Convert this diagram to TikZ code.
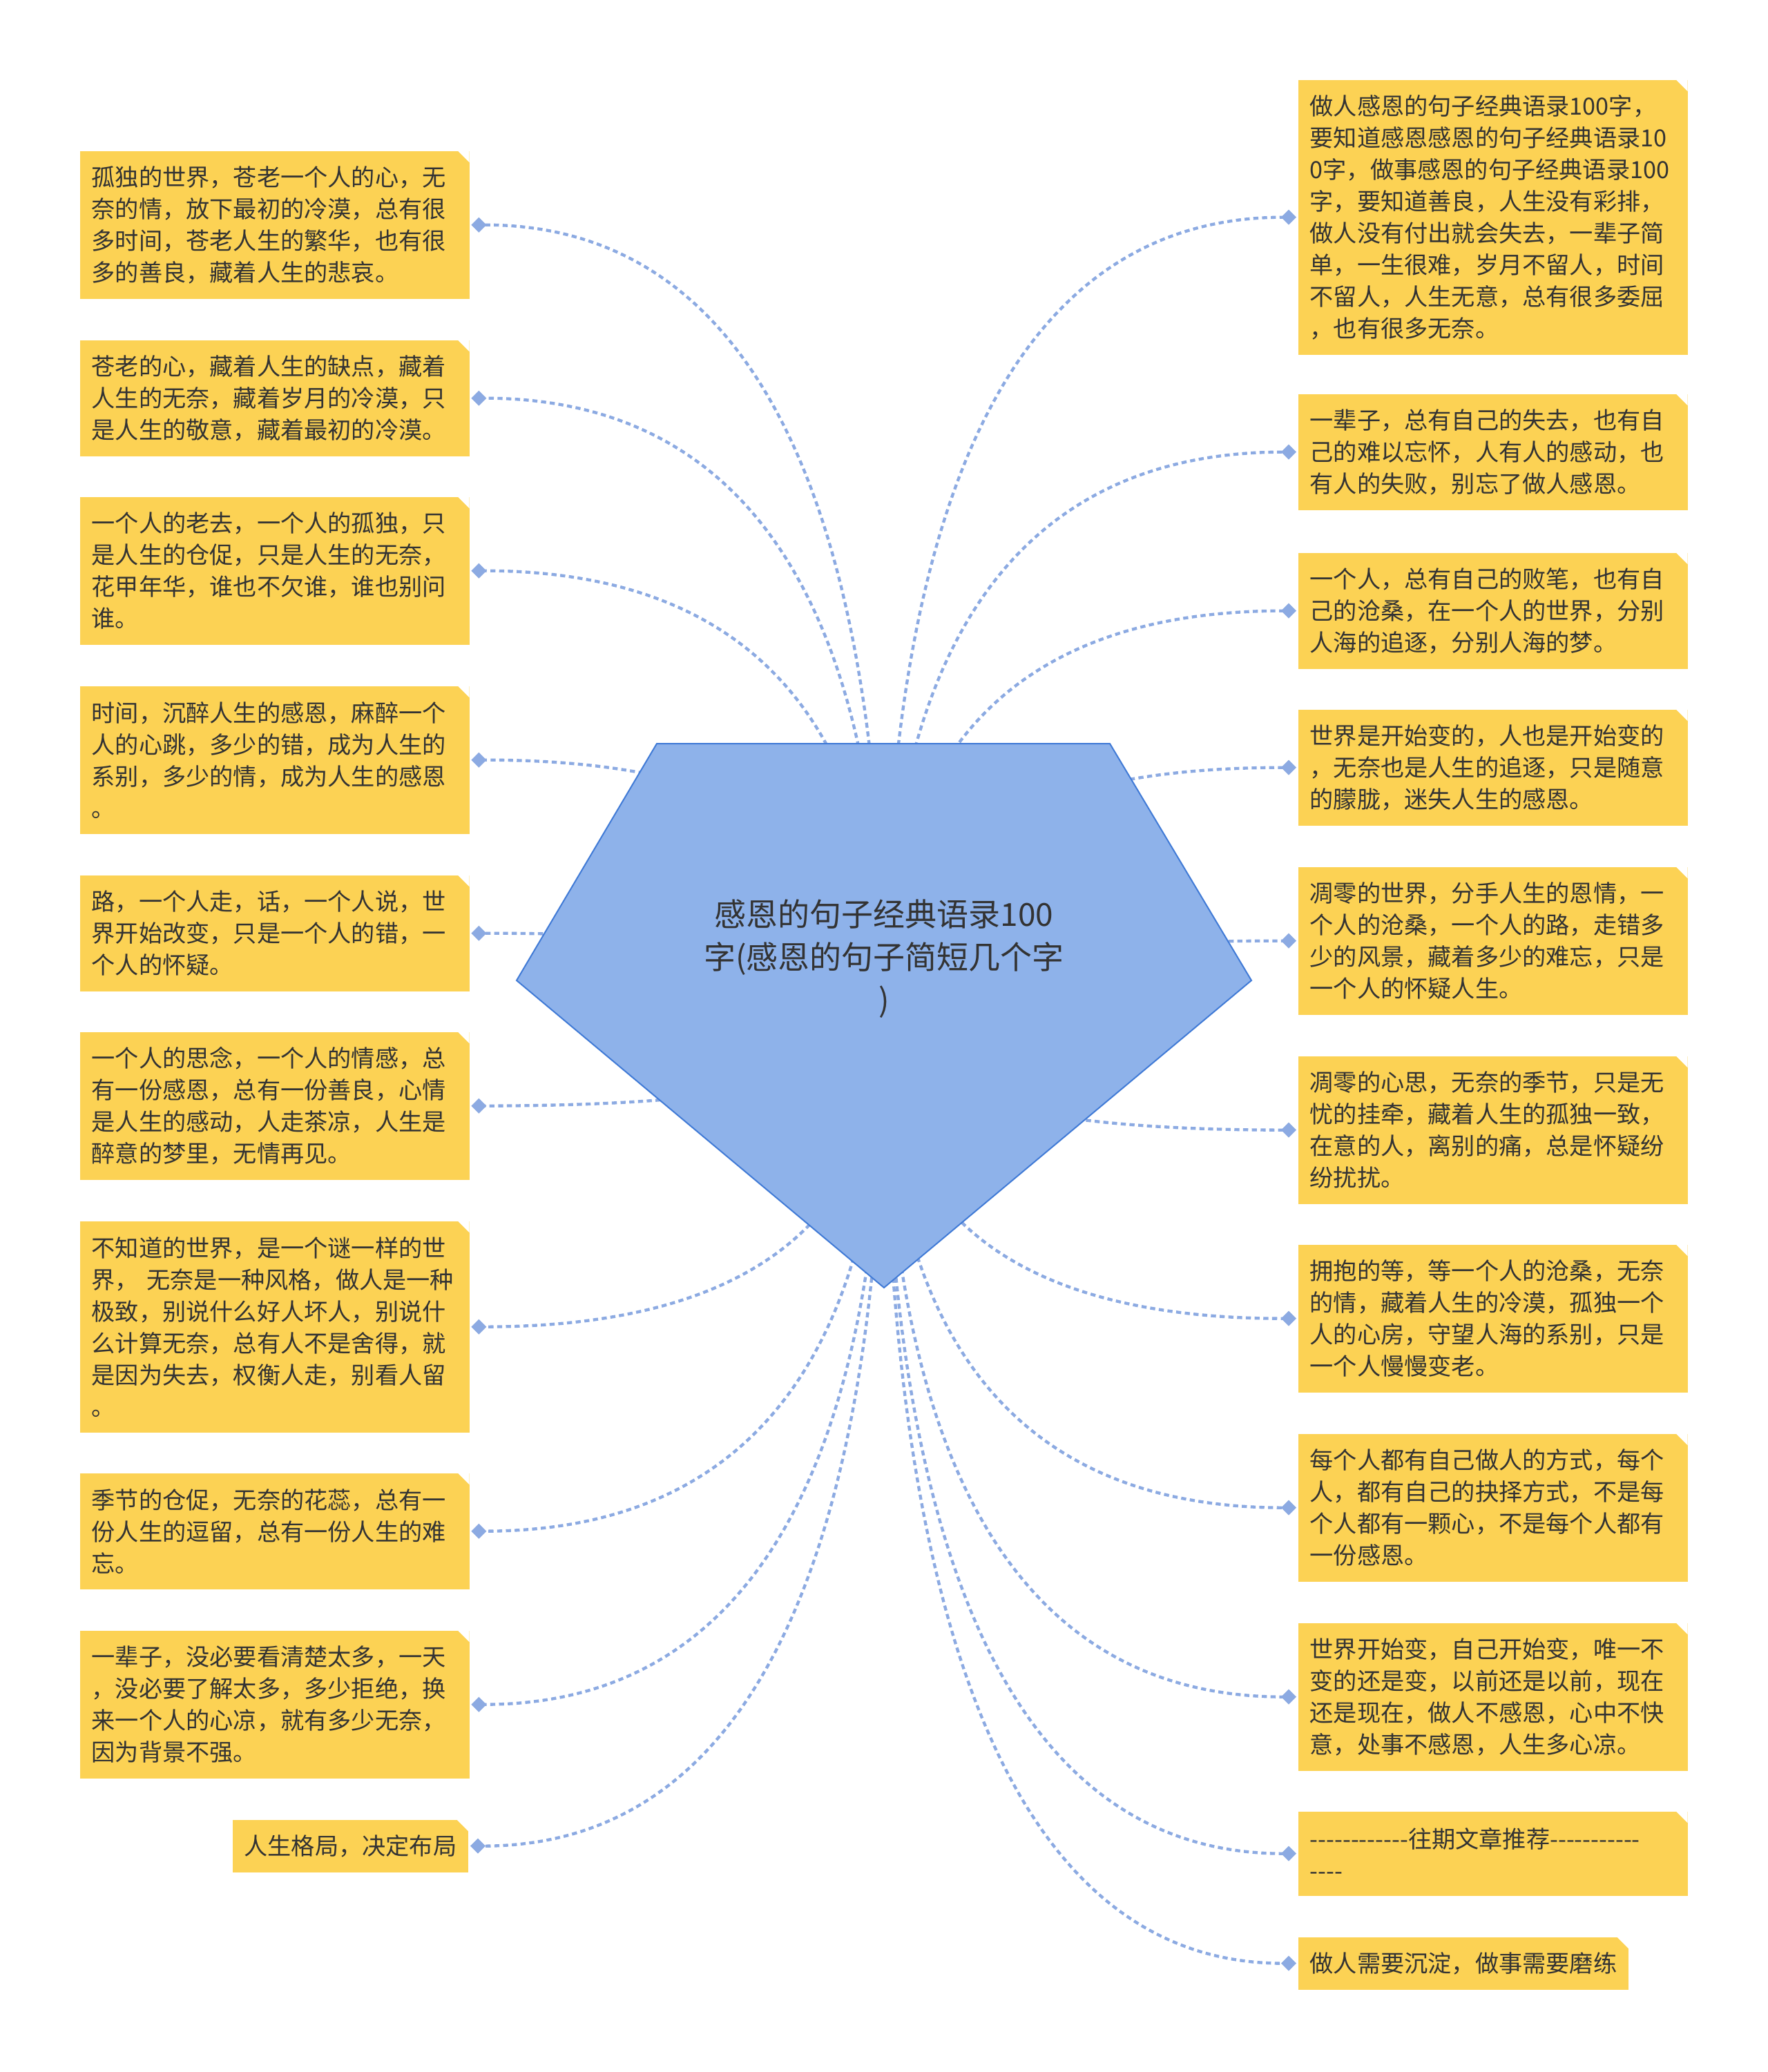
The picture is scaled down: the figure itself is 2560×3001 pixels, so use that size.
\documentclass[tikz,border=0pt]{standalone}
\usepackage{fontspec}
\newfontfamily\cjk{Noto Sans CJK SC}
\usetikzlibrary{calc,arrows.meta}
\definecolor{leafyellow}{RGB}{252,210,84}
\definecolor{inkgray}{RGB}{51,51,51}
\definecolor{rootblue}{RGB}{142,178,234}
\definecolor{rootedge}{RGB}{64,122,214}
\definecolor{twigblue}{RGB}{140,170,226}
\tikzset{
    leaf/.style={rectangle, fill=leafyellow, text=inkgray, inner xsep=5.1pt, inner ysep=0pt,
        font=\cjk\fontsize{10.26pt}{13.8pt}\selectfont,
        path picture={\fill[white] ([xshift=-5pt]path picture bounding box.north east)
            -- (path picture bounding box.north east)
            -- ([yshift=-5pt]path picture bounding box.north east) -- cycle;}},
    wide/.style={text width=159pt, align=left},
    nlines/.style={minimum height={#1*13.8pt+9pt}},
    twig/.style={draw=twigblue, line width=1.3pt, dash pattern=on 2.2pt off 1.6pt,
        -{Diamond[length=6.6pt,width=6.6pt]}},
    rootshape/.style={fill=rootblue, draw=rootedge, line width=0.6pt},
    roottext/.style={text=inkgray, align=center, font=\cjk\fontsize{13.8pt}{18.6pt}\selectfont}
}
\begin{document}
\begin{tikzpicture}[x=0.3pt, y=-0.3pt]
    \fill[white] (0,0) rectangle (2560,3001);
    \useasboundingbox (0,0) rectangle (2560,3001);
    % left column
    \node[leaf, wide, nlines=4, anchor=north west] (l1) at (115,218) {孤独的世界，苍老一个人的心，无\\奈的情，放下最初的冷漠，总有很\\多时间，苍老人生的繁华，也有很\\多的善良，藏着人生的悲哀。};
    \node[leaf, wide, nlines=3, anchor=north west] (l2) at (115,492) {苍老的心，藏着人生的缺点，藏着\\人生的无奈，藏着岁月的冷漠，只\\是人生的敬意，藏着最初的冷漠。};
    \node[leaf, wide, nlines=4, anchor=north west] (l3) at (115,719) {一个人的老去，一个人的孤独，只\\是人生的仓促，只是人生的无奈，\\花甲年华，谁也不欠谁，谁也别问\\谁。};
    \node[leaf, wide, nlines=4, anchor=north west] (l4) at (115,993) {时间，沉醉人生的感恩，麻醉一个\\人的心跳，多少的错，成为人生的\\系别，多少的情，成为人生的感恩\\。};
    \node[leaf, wide, nlines=3, anchor=north west] (l5) at (115,1267) {路，一个人走，话，一个人说，世\\界开始改变，只是一个人的错，一\\个人的怀疑。};
    \node[leaf, wide, nlines=4, anchor=north west] (l6) at (115,1494) {一个人的思念，一个人的情感，总\\有一份感恩，总有一份善良，心情\\是人生的感动，人走茶凉，人生是\\醉意的梦里，无情再见。};
    \node[leaf, wide, nlines=6, anchor=north west] (l7) at (115,1768) {不知道的世界，是一个谜一样的世\\界， 无奈是一种风格，做人是一种\\极致，别说什么好人坏人，别说什\\么计算无奈，总有人不是舍得，就\\是因为失去，权衡人走，别看人留\\。};
    \node[leaf, wide, nlines=3, anchor=north west] (l8) at (115,2133) {季节的仓促，无奈的花蕊，总有一\\份人生的逗留，总有一份人生的难\\忘。};
    \node[leaf, wide, nlines=4, anchor=north west] (l9) at (115,2361) {一辈子，没必要看清楚太多，一天\\，没必要了解太多，多少拒绝，换\\来一个人的心凉，就有多少无奈，\\因为背景不强。};
    \node[leaf, nlines=1, anchor=north east] (l10) at (679,2635) {人生格局，决定布局};
    % right column
    \node[leaf, wide, nlines=8, anchor=north west] (r1) at (1879,115) {做人感恩的句子经典语录100字，\\要知道感恩感恩的句子经典语录10\\0字，做事感恩的句子经典语录100\\字，要知道善良，人生没有彩排，\\做人没有付出就会失去，一辈子简\\单，一生很难，岁月不留人，时间\\不留人，人生无意，总有很多委屈\\，也有很多无奈。};
    \node[leaf, wide, nlines=3, anchor=north west] (r2) at (1879,570) {一辈子，总有自己的失去，也有自\\己的难以忘怀，人有人的感动，也\\有人的失败，别忘了做人感恩。};
    \node[leaf, wide, nlines=3, anchor=north west] (r3) at (1879,800) {一个人，总有自己的败笔，也有自\\己的沧桑，在一个人的世界，分别\\人海的追逐，分别人海的梦。};
    \node[leaf, wide, nlines=3, anchor=north west] (r4) at (1879,1027) {世界是开始变的，人也是开始变的\\，无奈也是人生的追逐，只是随意\\的朦胧，迷失人生的感恩。};
    \node[leaf, wide, nlines=4, anchor=north west] (r5) at (1879,1255) {凋零的世界，分手人生的恩情，一\\个人的沧桑，一个人的路，走错多\\少的风景，藏着多少的难忘，只是\\一个人的怀疑人生。};
    \node[leaf, wide, nlines=4, anchor=north west] (r6) at (1879,1529) {凋零的心思，无奈的季节，只是无\\忧的挂牵，藏着人生的孤独一致，\\在意的人，离别的痛，总是怀疑纷\\纷扰扰。};
    \node[leaf, wide, nlines=4, anchor=north west] (r7) at (1879,1802) {拥抱的等，等一个人的沧桑，无奈\\的情，藏着人生的冷漠，孤独一个\\人的心房，守望人海的系别，只是\\一个人慢慢变老。};
    \node[leaf, wide, nlines=4, anchor=north west] (r8) at (1879,2076) {每个人都有自己做人的方式，每个\\人，都有自己的抉择方式，不是每\\个人都有一颗心，不是每个人都有\\一份感恩。};
    \node[leaf, wide, nlines=4, anchor=north west] (r9) at (1879,2350) {世界开始变，自己开始变，唯一不\\变的还是变，以前还是以前，现在\\还是现在，做人不感恩，心中不快\\意，处事不感恩，人生多心凉。};
    \node[leaf, wide, nlines=2, anchor=north west] (r10) at (1879,2623) {------------往期文章推荐-----------\\----};
    \node[leaf, nlines=1, anchor=north west] (r11) at (1879,2805) {做人需要沉淀，做事需要磨练};
    % connectors
    \coordinate (hub) at (1280,1471);
    \draw[twig] (hub) .. controls ($(hub)!2/3!(hub |- l1.east)$) and ($(l1.east)!2/3!(hub |- l1.east)$) .. ([xshift=0.6pt]l1.east);
    \draw[twig] (hub) .. controls ($(hub)!2/3!(hub |- l2.east)$) and ($(l2.east)!2/3!(hub |- l2.east)$) .. ([xshift=0.6pt]l2.east);
    \draw[twig] (hub) .. controls ($(hub)!2/3!(hub |- l3.east)$) and ($(l3.east)!2/3!(hub |- l3.east)$) .. ([xshift=0.6pt]l3.east);
    \draw[twig] (hub) .. controls ($(hub)!2/3!(hub |- l4.east)$) and ($(l4.east)!2/3!(hub |- l4.east)$) .. ([xshift=0.6pt]l4.east);
    \draw[twig] (hub) .. controls ($(hub)!2/3!(hub |- l5.east)$) and ($(l5.east)!2/3!(hub |- l5.east)$) .. ([xshift=0.6pt]l5.east);
    \draw[twig] (hub) .. controls ($(hub)!2/3!(hub |- l6.east)$) and ($(l6.east)!2/3!(hub |- l6.east)$) .. ([xshift=0.6pt]l6.east);
    \draw[twig] (hub) .. controls ($(hub)!2/3!(hub |- l7.east)$) and ($(l7.east)!2/3!(hub |- l7.east)$) .. ([xshift=0.6pt]l7.east);
    \draw[twig] (hub) .. controls ($(hub)!2/3!(hub |- l8.east)$) and ($(l8.east)!2/3!(hub |- l8.east)$) .. ([xshift=0.6pt]l8.east);
    \draw[twig] (hub) .. controls ($(hub)!2/3!(hub |- l9.east)$) and ($(l9.east)!2/3!(hub |- l9.east)$) .. ([xshift=0.6pt]l9.east);
    \draw[twig] (hub) .. controls ($(hub)!2/3!(hub |- l10.east)$) and ($(l10.east)!2/3!(hub |- l10.east)$) .. ([xshift=0.6pt]l10.east);
    \draw[twig] (hub) .. controls ($(hub)!2/3!(hub |- r1.west)$) and ($(r1.west)!2/3!(hub |- r1.west)$) .. ([xshift=-0.6pt]r1.west);
    \draw[twig] (hub) .. controls ($(hub)!2/3!(hub |- r2.west)$) and ($(r2.west)!2/3!(hub |- r2.west)$) .. ([xshift=-0.6pt]r2.west);
    \draw[twig] (hub) .. controls ($(hub)!2/3!(hub |- r3.west)$) and ($(r3.west)!2/3!(hub |- r3.west)$) .. ([xshift=-0.6pt]r3.west);
    \draw[twig] (hub) .. controls ($(hub)!2/3!(hub |- r4.west)$) and ($(r4.west)!2/3!(hub |- r4.west)$) .. ([xshift=-0.6pt]r4.west);
    \draw[twig] (hub) .. controls ($(hub)!2/3!(hub |- r5.west)$) and ($(r5.west)!2/3!(hub |- r5.west)$) .. ([xshift=-0.6pt]r5.west);
    \draw[twig] (hub) .. controls ($(hub)!2/3!(hub |- r6.west)$) and ($(r6.west)!2/3!(hub |- r6.west)$) .. ([xshift=-0.6pt]r6.west);
    \draw[twig] (hub) .. controls ($(hub)!2/3!(hub |- r7.west)$) and ($(r7.west)!2/3!(hub |- r7.west)$) .. ([xshift=-0.6pt]r7.west);
    \draw[twig] (hub) .. controls ($(hub)!2/3!(hub |- r8.west)$) and ($(r8.west)!2/3!(hub |- r8.west)$) .. ([xshift=-0.6pt]r8.west);
    \draw[twig] (hub) .. controls ($(hub)!2/3!(hub |- r9.west)$) and ($(r9.west)!2/3!(hub |- r9.west)$) .. ([xshift=-0.6pt]r9.west);
    \draw[twig] (hub) .. controls ($(hub)!2/3!(hub |- r10.west)$) and ($(r10.west)!2/3!(hub |- r10.west)$) .. ([xshift=-0.6pt]r10.west);
    \draw[twig] (hub) .. controls ($(hub)!2/3!(hub |- r11.west)$) and ($(r11.west)!2/3!(hub |- r11.west)$) .. ([xshift=-0.6pt]r11.west);
    % root
    \draw[rootshape] (951,1077) -- (1607,1077) -- (1812,1420) -- (1280,1865) -- (748,1420) -- cycle;
    \node[roottext] (root) at (1280,1389) {感恩的句子经典语录100\\字(感恩的句子简短几个字\\)};
\end{tikzpicture}
\end{document}
